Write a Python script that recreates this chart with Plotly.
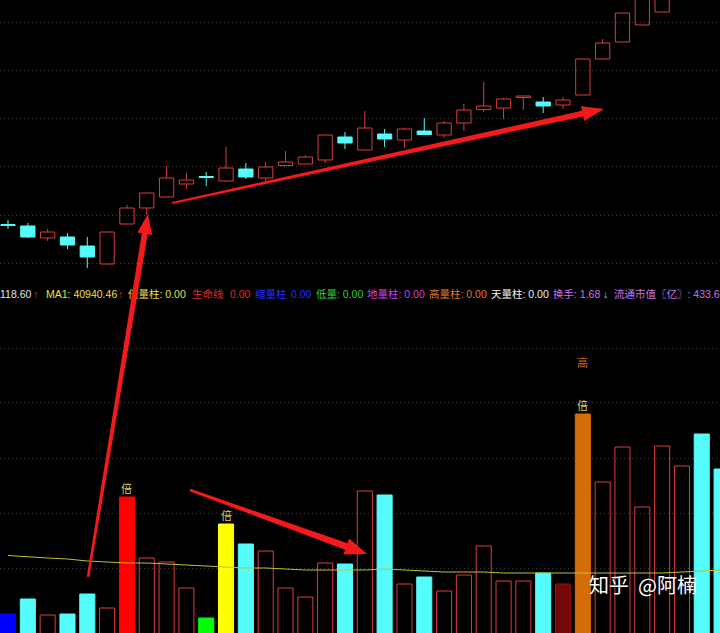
import plotly.graph_objects as go

W, H = 720, 633

# daily K-line, 37 sessions (the last three run off the top of the window)
opens = [11.02, 10.96, 10.48, 10.52, 10.16, 9.44, 11.04, 11.68, 12.12, 12.64,
         12.94, 12.76, 13.24, 12.88, 13.38, 13.44, 13.60, 14.52, 14.00, 14.64,
         14.40, 14.76, 14.60, 15.08, 15.62, 15.68, 16.10, 15.92, 15.80, 16.20,
         17.64, 18.32, 19.00, 19.52, 21.40, 22.60, 22.40]
highs = [11.20, 11.08, 10.84, 10.68, 10.52, 10.72, 11.80, 12.28, 13.36, 13.08,
         13.12, 14.12, 13.48, 13.52, 13.96, 13.80, 14.60, 14.72, 15.56, 14.84,
         14.88, 15.28, 15.16, 15.84, 16.72, 16.08, 16.16, 16.12, 16.12, 17.64,
         18.44, 19.48, 20.60, 21.60, 22.70, 22.80, 22.60]
lows = [10.84, 10.48, 10.36, 10.04, 9.28, 9.44, 11.04, 11.40, 12.12, 12.44,
        12.56, 12.72, 12.84, 12.72, 13.38, 13.44, 13.48, 14.04, 14.00, 14.12,
        14.08, 14.62, 14.48, 14.76, 15.52, 15.24, 15.60, 15.48, 15.64, 16.20,
        17.60, 18.32, 19.00, 19.52, 21.30, 21.90, 21.60]
closes = [10.98, 10.52, 10.72, 10.20, 9.72, 10.72, 11.68, 12.28, 12.88, 12.80,
          12.90, 13.28, 12.92, 13.32, 13.52, 13.72, 14.60, 14.28, 14.88, 14.44,
          14.84, 14.62, 15.08, 15.60, 15.76, 16.04, 16.16, 15.76, 16.00, 17.64,
          18.28, 19.48, 20.60, 21.60, 22.50, 22.10, 21.80]

# volume (thousand lots) and its MA1
vol = [36, 51, 35, 36, 56, 42, 153, 92, 88, 62,
       32, 126, 106, 99, 62, 53, 87, 86, 159, 155,
       66, 73, 59, 75, 104, 69, 69, 77, 66, 236,
       168, 203, 143, 204, 184, 216, 181]
ma1 = [94.5, 93, 92, 91, 89, 88, 87, 87, 86, 85,
       84, 83, 82, 82, 81, 80, 80, 80, 80, 81,
       80, 79, 78, 78, 78, 77, 77, 77, 77, 77,
       77, 77, 77, 77, 78, 79, 80]
vol_kind = ['dil', 'down', 'up', 'down', 'down', 'up', 'bei', 'up', 'up', 'up',
            'low', 'bei2', 'down', 'up', 'up', 'up', 'up', 'down', 'up', 'down',
            'up', 'down', 'up', 'up', 'up', 'up', 'up', 'down', 'shrink', 'gao',
            'up', 'up', 'up', 'up', 'up', 'down', 'down']
bei_marks = [6, 11, 29]
gao_marks = [29]

header = [("118.60", "#e6e6e6"), ("↑", "#ff2020"), ("MA1: 40940.46", "#e8e040"), ("↑", "#ff2020"),
          ("倍量柱: 0.00", "#e8e040"), ("生命线", "#e02828"), ("0.00", "#e02828"),
          ("缩量柱", "#2030ff"), ("0.00", "#2030ff"), ("低量: 0.00", "#30d030"),
          ("地量柱: 0.00", "#d040e0"), ("高量柱: 0.00", "#e07a28"), ("天量柱: 0.00", "#f0f0f0"),
          ("换手: 1.68", "#d070e8"), ("↓", "#40e0e0"), ("流通市值〖亿〗: 433.6", "#c878f0")]
header_x = [0, 33, 46, 118, 128, 192, 230, 255, 291, 316, 367, 429, 491, 553, 603, 614]

RED = "#dc3c3c"
CYAN = "#54fcfc"
days = list(range(len(opens)))
up = [c >= o for o, c in zip(opens, closes)]

fig = go.Figure()

# candle wicks
for is_up, col in [(True, RED), (False, CYAN)]:
    wx, wy = [], []
    for i in days:
        if up[i] != is_up:
            continue
        top, bot = max(opens[i], closes[i]), min(opens[i], closes[i])
        wx += [i, i, None, i, i, None]
        wy += [highs[i], top, None, bot, lows[i], None]
    fig.add_trace(go.Scatter(x=wx, y=wy, mode='lines', line=dict(color=col, width=1),
                             hoverinfo='skip', xaxis='x', yaxis='y'))

# candle bodies
for is_up, fill, col in [(True, 'rgba(0,0,0,0)', RED), (False, CYAN, CYAN)]:
    ids = [i for i in days if up[i] == is_up]
    fig.add_trace(go.Bar(x=ids, base=[min(opens[i], closes[i]) for i in ids],
                         y=[abs(closes[i] - opens[i]) for i in ids], width=0.72,
                         marker=dict(color=fill, line=dict(color=col, width=1)),
                         xaxis='x', yaxis='y'))

# volume bars
kind_style = {
    'up': ('rgba(0,0,0,0)', RED),
    'down': (CYAN, CYAN),
    'dil': ('#0000ff', '#0000ff'),
    'low': ('#00ff00', '#00ff00'),
    'bei': ('#ff0000', '#ff0000'),
    'bei2': ('#ffff00', '#ffff00'),
    'gao': ('#d46c08', '#d46c08'),
    'shrink': ('#720808', '#9a1010'),
}
for kind, (fill, col) in kind_style.items():
    ids = [i for i in days if vol_kind[i] == kind]
    fig.add_trace(go.Bar(x=ids, y=[vol[i] for i in ids], width=0.76,
                         marker=dict(color=fill, line=dict(color=col, width=1)),
                         xaxis='x', yaxis='y2'))

fig.add_trace(go.Scatter(x=days, y=ma1, mode='lines', line=dict(color='#c0c030', width=1),
                         xaxis='x', yaxis='y2'))

# header row of indicator values
fig.add_trace(go.Scatter(x=header_x, y=[0.5] * len(header), mode='text',
                         text=[t for t, c in header], textposition='middle right',
                         textfont=dict(color=[c for t, c in header], size=10.5,
                                       family='Liberation Sans, Noto Sans CJK SC'),
                         cliponaxis=False, xaxis='x2', yaxis='y3'))
fig.add_trace(go.Scatter(x=[462], y=[1.1], mode='text', text=['§'],
                         textfont=dict(color='#e02020', size=9), cliponaxis=False,
                         xaxis='x2', yaxis='y3'))

for i in bei_marks:
    fig.add_annotation(x=i, y=vol[i], xref='x', yref='y2', text='倍', showarrow=False,
                       yshift=9, font=dict(color='#d8d070', size=11, family='Noto Sans CJK SC'))
for i in gao_marks:
    fig.add_annotation(x=i, y=vol[i], xref='x', yref='y2', text='高', showarrow=False,
                       yshift=52, font=dict(color='#c86a14', size=11, family='Noto Sans CJK SC'))

fig.add_annotation(x=587 / W, y=1 - 601 / H, xref='paper', yref='paper', xanchor='left',
                   text='知乎\u00a0\u00a0@阿楠', showarrow=False,
                   font=dict(color='white', size=20, family='Noto Sans CJK SC'))


# hand-drawn red arrows (pixel coords -> paper)
def arrow_path(x0, y0, x1, y1, w0, w1, hl, hw):
    dx, dy = x1 - x0, y1 - y0
    n = (dx * dx + dy * dy) ** 0.5
    ux, uy = dx / n, dy / n
    nx, ny = -uy, ux
    bx, by = x1 - ux * hl, y1 - uy * hl
    pts = [(x0 + nx * w0 / 2, y0 + ny * w0 / 2), (bx + nx * w1 / 2, by + ny * w1 / 2),
           (bx + nx * hw / 2, by + ny * hw / 2), (x1, y1),
           (bx - nx * hw / 2, by - ny * hw / 2), (bx - nx * w1 / 2, by - ny * w1 / 2),
           (x0 - nx * w0 / 2, y0 - ny * w0 / 2)]
    return 'M ' + ' L '.join(f'{px / W:.5f},{1 - py / H:.5f}' for px, py in pts) + ' Z'


arrows = [(88, 577, 148, 214, 2.5, 6, 20, 15),
          (172, 203, 604, 109, 2, 6, 22, 15),
          (190, 490, 367, 554, 2.5, 7, 22, 17)]
for a in arrows:
    fig.add_shape(type='path', path=arrow_path(*a), xref='paper', yref='paper',
                  fillcolor='#f21a1a', line=dict(width=0), layer='above')

grid = dict(showgrid=True, gridcolor='#3a3a3a', griddash='1px,3px', gridwidth=1,
            showticklabels=False, zeroline=False, ticks='')
fig.update_layout(
    width=W, height=H,
    margin=dict(l=0, r=0, t=0, b=0),
    paper_bgcolor='black', plot_bgcolor='black',
    showlegend=False, barmode='overlay',
    xaxis=dict(range=[-0.404, 35.92], domain=[0, 1], anchor='y2', showgrid=False,
               showticklabels=False, zeroline=False),
    yaxis=dict(domain=[1 - 280 / H, 1], range=[8.8, 20], anchor='x',
               tickvals=[19.12, 17.2, 15.28, 13.36, 11.4, 9.48], **grid),
    yaxis2=dict(domain=[0, (H - 305) / H], range=[17, 345], anchor='x',
                tickvals=[302, 248, 192, 137, 82], **grid),
    xaxis2=dict(range=[0, W], domain=[0, 1], anchor='y3', visible=False),
    yaxis3=dict(domain=[(H - 305) / H, (H - 285) / H], range=[0, 1], anchor='x2', visible=False),
)

fig.write_html("out.html", config={'displayModeBar': False},
               post_script="document.body.style.margin='0';document.body.style.background='black';")
